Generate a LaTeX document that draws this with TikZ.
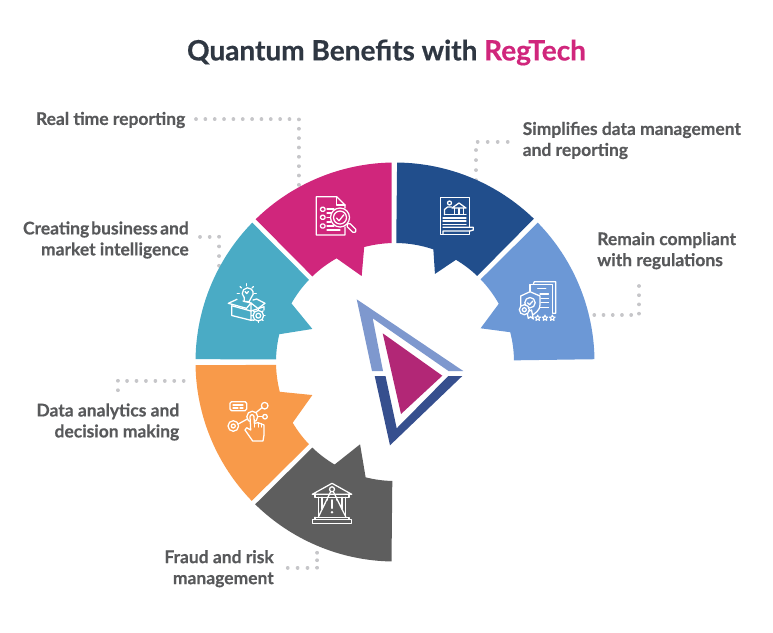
\documentclass[tikz,border=0pt]{standalone}
\usepackage{fontspec}
\setmainfont{Lato}[BoldFeatures={FakeBold=0.5}]
\definecolor{cpink}{HTML}{D0267C}
\definecolor{cblue}{HTML}{214E8C}
\definecolor{clight}{HTML}{6C98D6}
\definecolor{cteal}{HTML}{4AABC5}
\definecolor{corange}{HTML}{F89A4A}
\definecolor{cgray}{HTML}{5E5E5E}
\definecolor{ctext}{HTML}{58595B}
\definecolor{ctitle}{HTML}{2F3742}
\definecolor{cdot}{HTML}{C6C6C9}
\definecolor{ctrilight}{HTML}{7E98CE}
\definecolor{ctridark}{HTML}{364F8E}
\definecolor{ctrimid}{HTML}{B22776}
\tikzset{
  label text/.style={font=\fontsize{13.1}{15.75}\selectfont\bfseries,text=ctext,inner sep=0pt},
  leader/.style={draw=cdot,line width=2.8pt,line cap=round,dash pattern=on 0.01pt off #1pt},
  icon/.style={draw=white,line width=0.95pt,line cap=round,line join=round},
}
\begin{document}
\begin{tikzpicture}[x=0.75pt,y=-0.75pt]
\useasboundingbox (0,0) rectangle (773,632);

% title
\node[inner sep=0pt,font=\fontsize{21}{25}\selectfont\bfseries,text=ctitle] (title) at (386.5,52.5) {Quantum Benefits with \textcolor{cpink}{RegTech}};

% labels
\node[label text,anchor=east] (real) at (185.5,120) {Real time reporting};
\node[label text,anchor=east,align=right] (creating) at (189,240) {Creating\kern-1.7pt{} business\kern-1.3pt{} and\\market intelligence};
\node[label text,anchor=west,align=left] (simple) at (522.5,140.5) {Simplifies data management\\and reporting};
\node[label text,anchor=west,align=left] (remain) at (597,250.7) {Remain compliant\\with regulations};
\node[label text,anchor=east,align=right] (data) at (179.5,422) {Data analytics and\\decision making};
\node[label text,anchor=east,align=right] (fraud) at (274,568.7) {Fraud and risk\\management};

% leaders
\coordinate (real a) at (196,119.3);   \coordinate (real b) at (298.7,119.3); \coordinate (real c) at (298.7,190);
\coordinate (crea a) at (200,236.7);   \coordinate (crea b) at (219.3,236.7); \coordinate (crea c) at (219.3,270);
\coordinate (simp a) at (507.7,141.7); \coordinate (simp b) at (476,141.7);   \coordinate (simp c) at (476,185);
\coordinate (rema a) at (594.3,315);   \coordinate (rema b) at (639,315);     \coordinate (rema c) at (639,285.7);
\coordinate (data a) at (183.7,380.7); \coordinate (data b) at (117.7,380.7); \coordinate (data c) at (117.7,391);
\coordinate (frau a) at (287.7,567.7); \coordinate (frau b) at (317.3,567.7); \coordinate (frau c) at (317.3,552.7);
\draw[leader=7.0] (real a) -- (real b) -- (real c);
\draw[leader=7.24] (crea a) -- (crea b) -- (crea c);
\draw[leader=7.5] (simp a) -- (simp b) -- (simp c);
\draw[leader=6.9] (rema a) -- (rema b) -- (rema c);
\draw[leader=7.07] (data a) -- (data b) -- (data c);
\draw[leader=7.4] (frau a) -- (frau b);
\draw[leader=5.6] (frau b) -- (frau c);

% wedges
\begin{scope}[shift={(395,362)}]
\fill[cpink] (269:199.5) arc[start angle=269,end angle=225.7,radius=199.5] -- (226:119) arc[start angle=226,end angle=240.6,radius=119] -- (248.8:92.2) -- (255:119) arc[start angle=255,end angle=268.4,radius=119] -- cycle;
\fill[cblue] (270.6:199.5) arc[start angle=270.6,end angle=314.1,radius=199.5] -- (313.7:119) arc[start angle=313.7,end angle=300.8,radius=119] -- (294.4:96.7) -- (288.8:119) arc[start angle=288.8,end angle=270.6,radius=119] -- cycle;
\fill[clight] (315.7:199.5) arc[start angle=315.7,end angle=359.2,radius=199.5] -- (359.2:119) arc[start angle=359.2,end angle=345.5,radius=119] -- (338.5:92) -- (330.7:119) arc[start angle=330.7,end angle=316,radius=119] -- cycle;
\fill[cteal] (180.8:199.5) arc[start angle=180.8,end angle=224.3,radius=199.5] -- (223.7:119) arc[start angle=223.7,end angle=209.5,radius=119] -- (201.8:89) -- (193.5:119) arc[start angle=193.5,end angle=181.3,radius=119] -- cycle;
\fill[corange] (179.1:199.5) arc[start angle=179.1,end angle=135.9,radius=199.5] -- (136.3:119) arc[start angle=136.3,end angle=149.3,radius=119] -- (158.2:89) -- (165.5:119) arc[start angle=165.5,end angle=178.6,radius=119] -- cycle;
\fill[cgray] (91:199.5) arc[start angle=91,end angle=134.5,radius=199.5] -- (134:119) arc[start angle=134,end angle=120.5,radius=119] -- (113:89.4) -- (104.3:119) arc[start angle=104.3,end angle=91.3,radius=119] -- cycle;
\end{scope}

% centre triangle
\fill[ctrilight] (356.7,299.3) -- (463.3,371) -- (448.5,371) -- (372.7,318.3) -- (383,371) -- (372,371) -- cycle;
\fill[ctridark] (374.7,376) -- (385.5,376) -- (396.7,428.3) -- (448.3,376) -- (462.3,376) -- (390,445.3) -- cycle;
\fill[ctrimid] (382.7,333.3) -- (442.3,375.7) -- (401,414) -- cycle;

% icon: report and magnifier (pink)
\draw[icon] (345,208) -- (345,205) -- (336.7,196.7) -- (316.3,196.7) -- (316.3,235) -- (345,235) -- (345,227);
\draw[icon] (336.7,196.7) -- (336.7,205) -- (345,205);
\foreach \y in {209.3,217.3,226}{\draw[icon,rounded corners=1pt] (320.5,\y-2) rectangle (325,\y+2);}
\draw[icon] (327,209) -- (334,209) (327,213) -- (332,213) (327,217.5) -- (330,217.5) (327,222) -- (331,222) (327,226) -- (334,226) (327,230) -- (340,230);
\draw[icon,fill=cpink] (340,217.5) circle[radius=9.5];
\draw[icon] (340,217.5) circle[radius=6.5];
\draw[icon] (336.5,218) -- (339,220.8) -- (343.8,214.8);
\draw[icon,fill=cpink,rounded corners=1.3pt,rotate around={-45:(351.5,228)}] (346,225.9) rectangle (357,230.1);

% icon: bank document (blue)
\draw[icon] (469.3,227.3) -- (469.3,197.7) -- (440.3,197.7) -- (440.3,234.3) -- (469.3,234.3) -- (469.3,231);
\draw[icon] (443,227.3) -- (473.3,227.3) -- (473.3,230) -- (470,231) -- (443,231) -- (443,234);
\draw[icon] (443,218) -- (466,218) (443,221) -- (466,221) (443,224.2) -- (466,224.2);
\draw[icon] (449.5,203) circle[radius=2];
\draw[icon] (444.5,214.7) -- (444.5,209.5) -- (447.5,207) -- (451.5,207);
\draw[icon] (452,208) -- (459,203) -- (466,208) -- cycle;
\draw[icon] (444.5,214.7) -- (466,214.7) (454.5,208.5) -- (454.5,214.5) (459,208.5) -- (459,214.5) (463.5,208.5) -- (463.5,214.5);

% icon: box, bulb and gear (teal)
\draw[icon] (231.7,305.7) -- (231.7,315.5) -- (251,320.3) -- (251,311) -- (231.7,305.7);
\draw[icon] (251,311) -- (264,306.7) -- (264,310);
\draw[icon] (251,320.3) -- (253,320);
\draw[icon] (237,299.3) -- (228.3,303.3) -- (246.5,308.3) -- (251,303) -- (243,301);
\draw[icon] (251,311) -- (251,303) -- (258,308.5) -- (265,303.3) -- (256.7,299) -- (253,300);
\draw[icon] (244.2,297.5) arc[start angle=130,end angle=410,radius=5.5] -- (249.2,301.5) -- (244.2,301.5) -- cycle;
\draw[icon] (245,291.5) -- (246.7,293.5) -- (248.5,291.5);
\foreach \a in {180,225,270,315,360}{\draw[icon] (246.7,293.2)+(\a:7.5) -- +(\a:9.5);}
\draw[icon,fill=cteal] (258.3,315.7) circle[radius=5.3];
\draw[icon] (258.3,315.7) circle[radius=2.4];
\foreach \a in {0,45,...,315}{\draw[icon] (258.3,315.7)+(\a:5.3) -- +(\a:6.8);}

% icon: documents, shield and stars (light blue)
\draw[icon] (533.3,284.3) -- (534.3,281.7) -- (555.7,281.7) -- (555.7,313.3) -- (552.7,313.3);
\draw[icon] (530,291.5) -- (530,284.3) -- (552.7,284.3) -- (552.7,313);
\draw[icon] (537.7,288.5) -- (545.7,288.5) (540,294) -- (548.5,294) (541,298.3) -- (548.5,298.3) (541,302.7) -- (548.5,302.7) (540,307.3) -- (548.5,307.3);
\draw[icon,fill=clight] (530,291.7) -- (520.7,296) -- (520.7,305) .. controls (521,310) and (527,314) .. (530.5,316) .. controls (535,314) and (540,310) .. (540,305) -- (540,296) -- cycle;
\draw[icon] (530,302.7) circle[radius=5.2];
\draw[icon] (527.5,302.7) -- (529.5,304.7) -- (532.8,301);
\draw[icon,fill=clight] (527,312) -- (528.3,318.3) -- (530.7,316.7) -- (533.3,319) -- (531.5,310) -- cycle;
\draw[icon,fill=clight] (524.3,309.7) circle[radius=5];
\draw[icon] (524.3,309.7) circle[radius=2];
\foreach \p in {537.7,545,552.3}{
  \begin{scope}[shift={(\p,318)}]
    \draw[icon,line width=0.75pt] (270:3) -- (306:1.3) -- (342:3) -- (18:1.3) -- (54:3) -- (90:1.3) -- (126:3) -- (162:1.3) -- (198:3) -- (234:1.3) -- cycle;
  \end{scope}
}

% icon: touch network (orange)
\draw[icon,rounded corners=1.2pt] (230,401.7) rectangle (246.7,410.7);
\draw[icon] (233,405) -- (243,405) (233,408) -- (238,408) (240,408) -- (243,408);
\draw[icon] (233.3,426) circle[radius=5.3];
\draw[icon] (233.3,426) circle[radius=2];
\draw[icon] (238.3,424) -- (247.3,419);
\draw[icon] (252.3,416.7) circle[radius=5.5];
\draw[icon] (256,412.5) -- (262,407.7);
\draw[icon] (264.7,405.7) circle[radius=3.3];
\draw[icon] (258.3,416.7) -- (262.7,416.7);
\draw[icon] (265,416.7) circle[radius=2.3];
\draw[icon,fill=corange,line join=round] (252.7,441) -- (245,430) -- (246.7,427.7) -- (250.7,430) -- (250,416.7) arc[start angle=180,end angle=360,radius=2] -- (254.3,423.3) -- (258.3,422.7) -- (264,425) -- (264,435) -- (263,441) -- cycle;
\draw[icon] (258.3,422.7) -- (258.3,427) (261.3,423.7) -- (261.3,427) (254.3,423.3) -- (254.3,427);

% icon: bank with warning (grey)
\draw[icon] (332,483.3) -- (312.3,494.3) -- (351.7,494.3) -- cycle;
\draw[icon] (315,494.3) -- (315,497.3) -- (349,497.3) -- (349,494.3);
\draw[icon] (318.3,497.3) -- (318.3,517.3) (327.3,497.3) -- (327.3,500) (336.7,497.3) -- (336.7,500) (345.7,497.3) -- (345.7,517.3);
\draw[icon] (322,497.3) -- (322,509) (342,497.3) -- (342,509);
\draw[icon,fill=cgray] (332,489.3) circle[radius=2.5];
\draw[icon] (330.5,492) -- (318.5,516.7) (333.5,492) -- (345.7,516.7);
\draw[icon] (315,517.3) -- (349,517.3) -- (349,519) (315,517.3) -- (315,519);
\draw[icon] (312.3,519.2) rectangle (351.7,523.3);
\draw[icon,line width=1.5pt] (332,500) -- (332,508);
\fill[white] (332,512.2) circle[radius=1.3];
\end{tikzpicture}
\end{document}
